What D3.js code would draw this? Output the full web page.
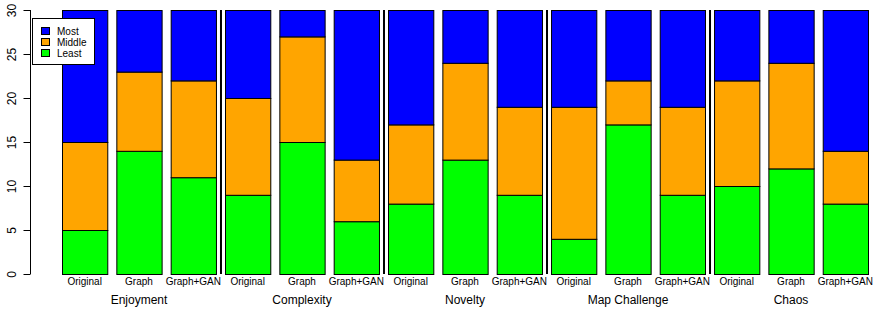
<!DOCTYPE html>
<html>
<head>
<meta charset="utf-8">
<script src="https://cdn.jsdelivr.net/npm/d3@7"></script>
<style>
  body { margin: 0; background: #fff; }
  svg { font-family: "Liberation Sans", Arial, sans-serif; }
</style>
</head>
<body>
<div id="chart"></div>
<script>
// stacked survey bars, 5 criteria x 3 methods

const groups = ["Enjoyment", "Complexity", "Novelty", "Map Challenge", "Chaos"];
const methods = ["Original", "Graph", "Graph+GAN"];
const yTicks = [0, 5, 10, 15, 20, 25, 30];

// one entry per bar, in order of groups then methods
const least  = [5, 14, 11,  9, 15,  6,  8, 13,  9,  4, 17,  9, 10, 12,  8];
const middle = [10, 9, 11, 11, 12,  7,  9, 11, 10, 15,  5, 10, 12, 12,  6];
const most   = [15, 7,  8, 10,  3, 17, 13,  6, 11, 11,  8, 11,  8,  6, 16];

const seriesNames = ["Least", "Middle", "Most"];
const colors = {Least: "#00ff00", Middle: "#ffa500", Most: "#0000ff"};

const width = 876, height = 310;

const svg = d3.select("#chart")
  .append("svg")
  .attr("width", width)
  .attr("height", height);

// build table for the stack
const data = [];
groups.forEach((g, gi) => {
  methods.forEach((m, mi) => {
    const i = gi * methods.length + mi;
    data.push({key: g + "|" + m, group: g, method: m, Least: least[i], Middle: middle[i], Most: most[i]});
  });
});

const x = d3.scaleBand()
  .domain(data.map(d => d.key))
  .range([62, 868])
  .paddingInner(1 / 6)
  .paddingOuter(0);

const y = d3.scaleLinear()
  .domain([0, 30])
  .range([274, 10]);

const stacked = d3.stack().keys(seriesNames)(data);

svg.append("g")
  .selectAll("g")
  .data(stacked)
  .join("g")
    .attr("fill", d => colors[d.key])
  .selectAll("rect")
  .data(d => d)
  .join("rect")
    .attr("x", d => x(d.data.key) + 0.5)
    .attr("y", d => y(d[1]) + 0.5)
    .attr("width", x.bandwidth())
    .attr("height", d => y(d[0]) - y(d[1]))
    .attr("stroke", "black")
    .attr("stroke-width", 1);

// separators between groups
const step = x.step();
const gap = step - x.bandwidth();
for (let gi = 1; gi < groups.length; gi++) {
  const k = data[gi * methods.length - 1].key;
  const sx = x(k) + x.bandwidth() + gap / 2 + 0.5;
  svg.append("line")
    .attr("x1", sx).attr("x2", sx)
    .attr("y1", y(30)).attr("y2", y(0))
    .attr("stroke", "black")
    .attr("stroke-width", 2);
}

// y axis
const yAxis = svg.append("g")
  .attr("transform", "translate(30.5,0)")
  .call(d3.axisLeft(y).tickValues(yTicks).tickSize(7).tickPadding(0));
yAxis.select(".domain").attr("d", `M0,${y(0)}V${y(30)}`).attr("stroke", "black");
yAxis.selectAll(".tick line").attr("stroke", "black");
yAxis.selectAll(".tick text")
  .attr("x", 0).attr("dy", null)
  .attr("transform", "translate(-15,0) rotate(-90)")
  .attr("text-anchor", "middle")
  .attr("fill", "black")
  .style("font-size", "12px")
  .style("font-family", "'Liberation Sans', Arial, sans-serif");

// method labels under each bar
svg.append("g")
  .selectAll("text")
  .data(data)
  .join("text")
    .attr("x", d => x(d.key) + x.bandwidth() / 2)
    .attr("y", 285)
    .attr("text-anchor", "middle")
    .style("font-size", "10px")
    .text(d => d.method);

// group labels under the middle bar
svg.append("g")
  .selectAll("text")
  .data(groups)
  .join("text")
    .attr("x", g => x(g + "|" + methods[1]) + x.bandwidth() / 2)
    .attr("y", 304)
    .attr("text-anchor", "middle")
    .style("font-size", "12px")
    .text(g => g);

// legend
const legend = svg.append("g");
legend.append("rect")
  .attr("x", 32.5).attr("y", 18.5)
  .attr("width", 62).attr("height", 46)
  .attr("fill", "white")
  .attr("stroke", "black");

const legendItems = ["Most", "Middle", "Least"];
legendItems.forEach((s, i) => {
  legend.append("rect")
    .attr("x", 41.5).attr("y", 27.5 + i * 11)
    .attr("width", 8).attr("height", 7)
    .attr("fill", colors[s])
    .attr("stroke", "black");
  legend.append("text")
    .attr("x", 57).attr("y", 35 + i * 11)
    .style("font-size", "10px")
    .text(s);
});
</script>
</body>
</html>
